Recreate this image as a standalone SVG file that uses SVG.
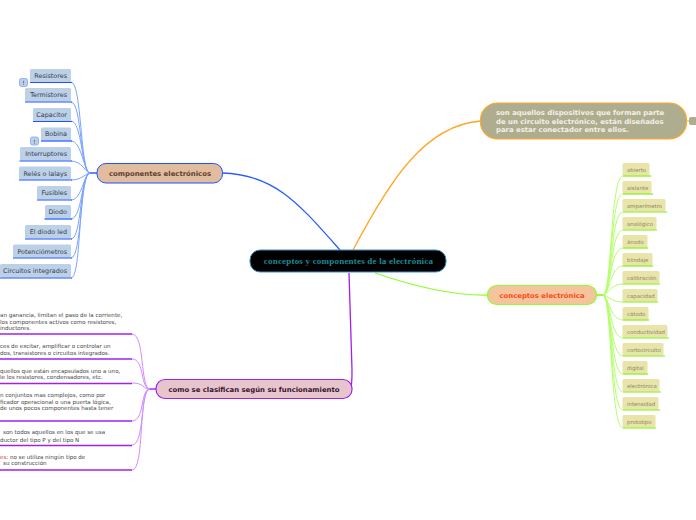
<svg xmlns="http://www.w3.org/2000/svg" width="696" height="520" viewBox="0 0 696 520">
<style>
text{font-family:"DejaVu Sans",Verdana,sans-serif}
.blue{font-size:6.4px;fill:#333d4a;text-anchor:end}
.green{font-size:5.4px;fill:#8a8a60}
.purple{font-size:5.55px;fill:#444}
.bb{fill:#bcd0e8}
.gb{fill:#e8e4aa}
.bl{stroke:#1a53ff;stroke-width:1.2;fill:none}
.gl{stroke:#7cf000;stroke-width:1.2;fill:none}
.pl{stroke:#a020f0;stroke-width:1.4;fill:none}
.cb{stroke:#7aa5ff;stroke-width:1;fill:none}
.cg{stroke:#b4ff6a;stroke-width:1;fill:none}
.cp{stroke:#d08cff;stroke-width:1;fill:none}
.t{font-weight:bold;font-size:6.9px}
.note{fill:#bcd0e8;stroke:#7aa5ff;stroke-width:.8}
</style>
<g id="connectors" fill="none">
<path d="M340 250C300 205 275 174 222 173" stroke="#2a5cff" stroke-width="1.3"/>
<path d="M353 250C390 180 425 125 481 121" stroke="#ffa726" stroke-width="1.3"/>
<path d="M375 273C410 285 450 296 488 295" stroke="#8cff2a" stroke-width="1.3"/>
<path d="M349 273L352 370C352 385 352 389 346 389" stroke="#a020f0" stroke-width="1.3"/>
<path d="M686 121H689" stroke="#ffa726" stroke-width="1"/>
<g class="cb">
<path d="M90 173C80 173 82 82 71 82"/><path d="M90 173C80 173 82 102 71 102"/><path d="M90 173C82 173 82 121 71 121"/><path d="M90 173C84 173 82 141 71 141"/><path d="M90 173C86 173 82 161 71 161"/><path d="M90 173C86 173 82 180 71 180"/><path d="M90 173C84 173 82 200 71 200"/><path d="M90 173C82 173 82 219 71 219"/><path d="M90 173C80 173 82 239 71 239"/><path d="M90 173C80 173 82 258 71 258"/><path d="M90 173C78 173 82 278 71 278"/>
<path d="M90 173H97" stroke="#1a53ff" stroke-width="1.4"/>
</g>
<g class="cg">
<path d="M603 295C612 295 610 176 623 176"/><path d="M603 295C612 295 610 194 623 194"/><path d="M603 295C612 295 610 212 623 212"/><path d="M603 295C612 295 610 230 623 230"/><path d="M603 295C610 295 610 248 623 248"/><path d="M603 295C610 295 610 266 623 266"/><path d="M603 295C608 295 610 284 623 284"/><path d="M603 295C608 295 610 302 623 302"/><path d="M603 295C608 295 610 320 623 320"/><path d="M603 295C610 295 610 338 623 338"/><path d="M603 295C610 295 610 356 623 356"/><path d="M603 295C612 295 610 374 623 374"/><path d="M603 295C612 295 610 392 623 392"/><path d="M603 295C612 295 610 410 623 410"/><path d="M603 295C612 295 610 428 623 428"/>
<path d="M597 295H603" stroke="#7cf000" stroke-width="1.4"/>
</g>
<g class="cp">
<path d="M150 389C140 389 145 334 132 334"/><path d="M150 389C140 389 145 359 132 359"/><path d="M150 389C142 389 145 383 132 383"/><path d="M150 389C140 389 145 421 132 421"/><path d="M150 389C140 389 145 445 132 445"/><path d="M150 389C138 389 145 470 132 470"/>
<path d="M150 389H156" stroke="#a020f0" stroke-width="1.4"/>
</g>
</g>
<g id="center"><rect x="250" y="250" width="196" height="22" rx="10" fill="#000" stroke="#3a8fd0" stroke-width="1"/><text x="348.500" y="264" text-anchor="middle" style="font-family:'Liberation Serif',serif;font-size:9px;font-weight:bold;letter-spacing:.2px" fill="#1a8a96">conceptos y componentes de la electrónica</text></g>
<g id="componentes"><rect x="97" y="163.500" width="125.500" height="19.500" rx="9" fill="#e2bc9e" stroke="#1a53ff"/><text x="160" y="176" text-anchor="middle" class="t" fill="#5a4030">componentes electrónicos</text></g>
<g id="definicion"><rect x="480.500" y="103" width="206" height="36" rx="17" fill="#aead90" stroke="#ffa726" stroke-width="1.200"/><text class="t" fill="#f2f2e6"><tspan x="496" y="115">son aquellos dispositivos que forman parte</tspan><tspan x="496" y="124">de un circuito electrónico, están diseñados</tspan><tspan x="496" y="132">para estar conectador entre ellos.</tspan></text></g>
<g id="definicion-note"><rect x="689" y="117" width="8" height="8" rx="2" fill="#aead90"/></g>
<g id="conceptos"><rect x="487.500" y="285.500" width="109" height="19" rx="9" fill="#f4c49c" stroke="#8cff2a" stroke-width="1.200"/><text x="542" y="298" text-anchor="middle" class="t" fill="#ff4a1a">conceptos electrónica</text></g>
<g id="clasifican"><rect x="156" y="379.500" width="196" height="19" rx="9" fill="#e6c6cc" stroke="#a020f0" stroke-width="1.200"/><text x="254" y="392" text-anchor="middle" class="t" fill="#3a1030">como se clasifican según su funcionamiento</text></g>

<g id="b1"><rect class="bb" x="30" y="69" width="41" height="13" rx="1.500"/><path class="bl" d="M30 82.500H72"/><text class="blue" x="67" y="77.500">Resistores</text></g>
<g id="n1"><rect class="note" x="19.500" y="78.500" width="8" height="8" rx="2"/><text x="23.500" y="85" text-anchor="middle" font-size="6" fill="#333">!</text></g>
<g id="b2"><rect class="bb" x="25" y="88" width="46" height="13.500" rx="1.500"/><path class="bl" d="M25 102H72"/><text class="blue" x="67" y="97">Termistores</text></g>
<g id="b3"><rect class="bb" x="33" y="108" width="38" height="13" rx="1.500"/><path class="bl" d="M33 121.500H72"/><text class="blue" x="67" y="117">Capacitor</text></g>
<g id="b4"><rect class="bb" x="41" y="127.500" width="30" height="13" rx="1.500"/><path class="bl" d="M41 141H72"/><text class="blue" x="67" y="136">Bobina</text></g>
<g id="n2"><rect class="note" x="30.500" y="137" width="8" height="8" rx="2"/><text x="34.500" y="143.500" text-anchor="middle" font-size="6" fill="#333">!</text></g>
<g id="b5"><rect class="bb" x="20" y="147" width="51" height="13.500" rx="1.500"/><path class="bl" d="M19.500 161H72"/><text class="blue" x="67" y="156">Interruptores</text></g>
<g id="b6"><rect class="bb" x="19" y="166.500" width="52" height="13" rx="1.500"/><path class="bl" d="M19 180H72"/><text class="blue" x="67" y="175.500">Relés o lalays</text></g>
<g id="b7"><rect class="bb" x="37" y="186" width="34" height="13.500" rx="1.500"/><path class="bl" d="M37 200H72"/><text class="blue" x="67" y="195">Fusibles</text></g>
<g id="b8"><rect class="bb" x="45" y="205" width="26" height="13.500" rx="1.500"/><path class="bl" d="M44.500 219H72"/><text class="blue" x="67" y="214">Diodo</text></g>
<g id="b9"><rect class="bb" x="25" y="225" width="46" height="13.500" rx="1.500"/><path class="bl" d="M25 239H72"/><text class="blue" x="67" y="234">El diodo led</text></g>
<g id="b10"><rect class="bb" x="13" y="244.500" width="58" height="13" rx="1.500"/><path class="bl" d="M13 258H72"/><text class="blue" x="67" y="253.500">Potenciómetros</text></g>
<g id="b11"><rect class="bb" x="0" y="264" width="71" height="13.500" rx="1.500"/><path class="bl" d="M0 278H72"/><text class="blue" x="67" y="273">Circuitos integrados</text></g>

<g id="g1"><rect class="gb" x="622.500" y="163" width="27" height="12.500" rx="1.500"/><path class="gl" d="M623 176H651"/><text class="green" x="627" y="171.500">abierto</text></g>
<g id="g2"><rect class="gb" x="622.500" y="181" width="29" height="12.500" rx="1.500"/><path class="gl" d="M623 194H653"/><text class="green" x="627" y="189.500">aislante</text></g>
<g id="g3"><rect class="gb" x="622.500" y="199" width="43" height="12.500" rx="1.500"/><path class="gl" d="M623 212H667"/><text class="green" x="627" y="207.500">amperímetro</text></g>
<g id="g4"><rect class="gb" x="622.500" y="217" width="34" height="12.500" rx="1.500"/><path class="gl" d="M623 230H657"/><text class="green" x="627" y="225.500">analógico</text></g>
<g id="g5"><rect class="gb" x="622.500" y="235" width="25" height="12.500" rx="1.500"/><path class="gl" d="M623 248H648"/><text class="green" x="627" y="243.500">ánodo</text></g>
<g id="g6"><rect class="gb" x="622.500" y="253" width="30" height="12.500" rx="1.500"/><path class="gl" d="M623 266H653"/><text class="green" x="627" y="261.500">blindaje</text></g>
<g id="g7"><rect class="gb" x="622.500" y="271" width="37" height="12.500" rx="1.500"/><path class="gl" d="M623 284H660"/><text class="green" x="627" y="279.500">calibración</text></g>
<g id="g8"><rect class="gb" x="622.500" y="289" width="35" height="12.500" rx="1.500"/><path class="gl" d="M623 302H658"/><text class="green" x="627" y="297.500">capacidad</text></g>
<g id="g9"><rect class="gb" x="622.500" y="307" width="26" height="12.500" rx="1.500"/><path class="gl" d="M623 320H649"/><text class="green" x="627" y="315.500">cátodo</text></g>
<g id="g10"><rect class="gb" x="622.500" y="325" width="45" height="12.500" rx="1.500"/><path class="gl" d="M623 338H669"/><text class="green" x="627" y="333.500">conductividad</text></g>
<g id="g11"><rect class="gb" x="622.500" y="343" width="41" height="12.500" rx="1.500"/><path class="gl" d="M623 356H665"/><text class="green" x="627" y="351.500">cortocircuito</text></g>
<g id="g12"><rect class="gb" x="622.500" y="361" width="25" height="12.500" rx="1.500"/><path class="gl" d="M623 374H648"/><text class="green" x="627" y="369.500">digital</text></g>
<g id="g13"><rect class="gb" x="622.500" y="379" width="37" height="12.500" rx="1.500"/><path class="gl" d="M623 392H661"/><text class="green" x="627" y="387.500">electrónica</text></g>
<g id="g14"><rect class="gb" x="622.500" y="397" width="36" height="12.500" rx="1.500"/><path class="gl" d="M623 410H660"/><text class="green" x="627" y="405.500">intensidad</text></g>
<g id="g15"><rect class="gb" x="622.500" y="415" width="33" height="12.500" rx="1.500"/><path class="gl" d="M623 428H656"/><text class="green" x="627" y="423.500">prototipo</text></g>

<g id="p1"><text class="purple"><tspan x="0" y="317">an ganancia, limitan el paso de la corriente,</tspan><tspan x="0" y="323.500">los componentes activos como resistores,</tspan><tspan x="0" y="330">inductores.</tspan></text><path class="pl" d="M0 334H132"/></g>
<g id="p2"><text class="purple"><tspan x="0" y="348">ces de excitar, amplificar o controlar un</tspan><tspan x="0" y="354.500">dos, transistores o circuitos integrados.</tspan></text><path class="pl" d="M0 359H132"/></g>
<g id="p3"><text class="purple"><tspan x="0" y="372.500">quellos que están encapsulados uno a uno,</tspan><tspan x="0" y="379">le los resistores, condensadores, etc.</tspan></text><path class="pl" d="M0 383.500H132"/></g>
<g id="p4"><text class="purple"><tspan x="0" y="397">n conjuntos mas complejos, como por</tspan><tspan x="0" y="403.500">ficador operacional o una puerta lógica,</tspan><tspan x="0" y="410">de unos pocos componentes hasta tener</tspan></text><path class="pl" d="M0 421H132"/></g>
<g id="p5"><text class="purple"><tspan x="3" y="434">son todos aquellos en los que se usa</tspan><tspan x="0" y="441.500">ductor del tipo P y del tipo N</tspan></text><path class="pl" d="M0 445.500H132"/></g>
<g id="p6"><text class="purple"><tspan x="0" y="458.500"><tspan fill="#d04040">es</tspan>: no se utiliza ningún tipo de</tspan><tspan x="3" y="465">su construcción</tspan></text><path class="pl" d="M0 470H132"/></g>
</svg>
